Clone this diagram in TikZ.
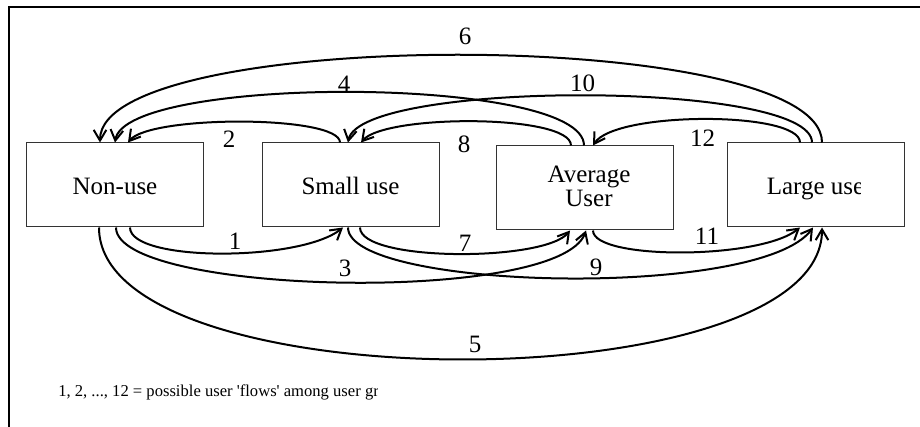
\documentclass[tikz,border=0pt]{standalone}
\usepackage{fontspec}
\setmainfont{Liberation Serif}
\usetikzlibrary{arrows.meta,calc}
\begin{document}
\begin{tikzpicture}[x=0.75pt,y=-0.75pt,
  box/.style={draw=black!80, line width=0.75pt, minimum width=132.75pt, minimum height=63pt, inner sep=0pt},
  txt/.style={font=\fontsize{18.75}{18}\selectfont, inner sep=0pt, align=center},
  lab/.style={font=\fontsize{18.75}{18}\selectfont, inner sep=0pt, anchor=base},
  captxt/.style={font=\fontsize{12.45}{14}\selectfont, inner sep=0pt, anchor=base west},
  flow/.style={draw, line width=1.5pt, -{Straight Barb[length=8pt,width=9.5pt]}},
  frameline/.style={draw, line width=0.8pt}]
\useasboundingbox (0,0) rectangle (920,427);
\draw[frameline] (9,427) -- (9,7) -- (920,7);
% boxes
\node[box] (b1) at (114.5,185) {};
\node[box] (b2) at (350.5,185) {};
\node[box] (b3) at (584.5,188) {};
\node[box] (b4) at (815.5,185) {};
% texts
\node[txt, anchor=base] (t1) at (115,195) {Non-use};
\node[txt, anchor=base] (t2) at (350.5,195) {Small use};
\node[txt] (t3) at (589,186.75) {Average\\User};
\begin{scope}
  \clip (700,100) rectangle (860,260);
  \node[txt, anchor=base] (t4) at (815.5,195) {Large use};
\end{scope}
% forward flows (below)
\draw[flow] ($(b1.south)+(15.5,0)$) .. controls (130,262) and (300,262) .. ($(b2.south)+(-7.5,0)$);
\draw[flow] ($(b1.south)+(1.5,0)$) .. controls (116,295) and (560,305) .. ($(b3.south)+(1.5,0)$);
\draw[flow] ($(b1.south)+(-15.5,0)$) .. controls (99,403) and (822,403) .. ($(b4.south)+(6.5,0)$);
\draw[flow] ($(b2.south)+(9.5,0)$) .. controls (360,262) and (545,262) .. ($(b3.south)+(-14.5,0)$);
\draw[flow] ($(b2.south)+(-2.5,0)$) .. controls (348,290) and (760,300) .. ($(b4.south)+(-2.5,0)$);
\draw[flow] ($(b3.south)+(8.5,0)$) .. controls (593,260) and (760,260) .. ($(b4.south)+(-15.5,0)$);
% backward flows (above)
\draw[flow] ($(b2.north)+(-10.5,0)$) .. controls (340,115) and (150,115) .. ($(b1.north)+(13.5,0)$);
\draw[flow] ($(b3.north)+(-0.5,0)$) .. controls (584,75) and (125,75) .. ($(b1.north)+(0.5,0)$);
\draw[flow] ($(b4.north)+(6.5,0)$) .. controls (822,26) and (100,26) .. ($(b1.north)+(-14.5,0)$);
\draw[flow] ($(b3.north)+(-13.5,0)$) .. controls (571,114) and (385,114) .. ($(b2.north)+(10.5,0)$);
\draw[flow] ($(b4.north)+(-3.5,0)$) .. controls (812,80) and (360,80) .. ($(b2.north)+(-2.5,0)$);
\draw[flow] ($(b4.north)+(-15.5,0)$) .. controls (800,111) and (615,111) .. ($(b3.north)+(8.5,0)$);
% labels
\node[lab] (n1) at (235,250) {1};
\node[lab] (n2) at (229,148) {2};
\node[lab] (n3) at (345,277) {3};
\node[lab] (n4) at (344,93) {4};
\node[lab] (n5) at (475,352) {5};
\node[lab] (n6) at (465,45) {6};
\node[lab] (n7) at (465,252) {7};
\node[lab] (n8) at (464,153) {8};
\node[lab] (n9) at (596,276) {9};
\node[lab] (n10) at (582.5,92) {10};
\node[lab] (n11) at (707,245) {11};
\node[lab] (n12) at (702.5,147) {12};
% caption
\begin{scope}
  \clip (0,300) rectangle (377,427);
  \node[captxt] (capt) at (58,396) {1, 2, ..., 12 = possible user \textquotesingle flows\textquotesingle{} among user gr};
\end{scope}
\end{tikzpicture}
\end{document}
